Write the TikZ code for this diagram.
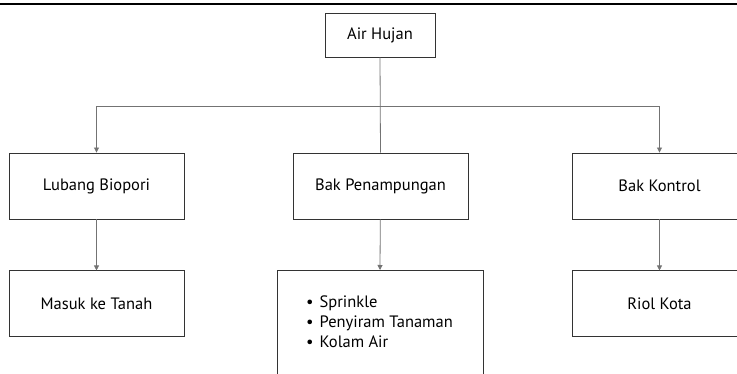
\documentclass[tikz,border=0pt]{standalone}
\usepackage{fontspec}
\setmainfont{PT Sans}
\usetikzlibrary{arrows.meta,positioning}

\begin{document}
\begin{tikzpicture}[x=1pt,y=-1pt,font=\fontsize{16.5}{20}\selectfont,
  box/.style={draw=black!80,line width=0.9pt,minimum width=175pt,minimum height=66pt,align=center,inner sep=0pt},
  link/.style={draw=black!55,line width=0.8pt},
  arr/.style={link,-{Triangle[length=5pt,width=5pt]}}]
\useasboundingbox (0,0) rectangle (737,374);
\clip (0,0) rectangle (737,374);
\draw[line width=1.6pt] (0,4) -- (737,4);
% baris atas
\node[box,minimum width=110pt,minimum height=44pt] (hujan) at (380,35) {Air Hujan};
% baris tengah
\node[box] (biopori) at (96.5,186) {Lubang Biopori};
\node[box] (tampung) at (380.5,186) {Bak Penampungan};
\node[box] (kontrol) at (659.5,186) {Bak Kontrol};
% baris bawah
\node[box,below=51pt of biopori] (tanah) {Masuk ke Tanah};
\node[box,minimum width=206pt,minimum height=130pt,anchor=north] (guna) at (380,270) {};
\node[box,below=51pt of kontrol] (riol) {Riol Kota};
\node[anchor=west,align=left,inner sep=0pt,font=\fontsize{16.5}{20}\selectfont] (daftar) at (306,322)
  {\textbullet\hspace{6pt}Sprinkle\\ \textbullet\hspace{6pt}Penyiram Tanaman\\ \textbullet\hspace{6pt}Kolam Air};
\coordinate (cabang) at (380,106);
% penghubung
\draw[link] (hujan.south) -- (tampung.north);
\draw[arr] (cabang) -| (biopori.north);
\draw[arr] (cabang) -| (kontrol.north);
\draw[arr] (biopori) -- (tanah);
\draw[arr] (tampung) -- (guna.north);
\draw[arr] (kontrol) -- (riol);
\end{tikzpicture}
\end{document}
